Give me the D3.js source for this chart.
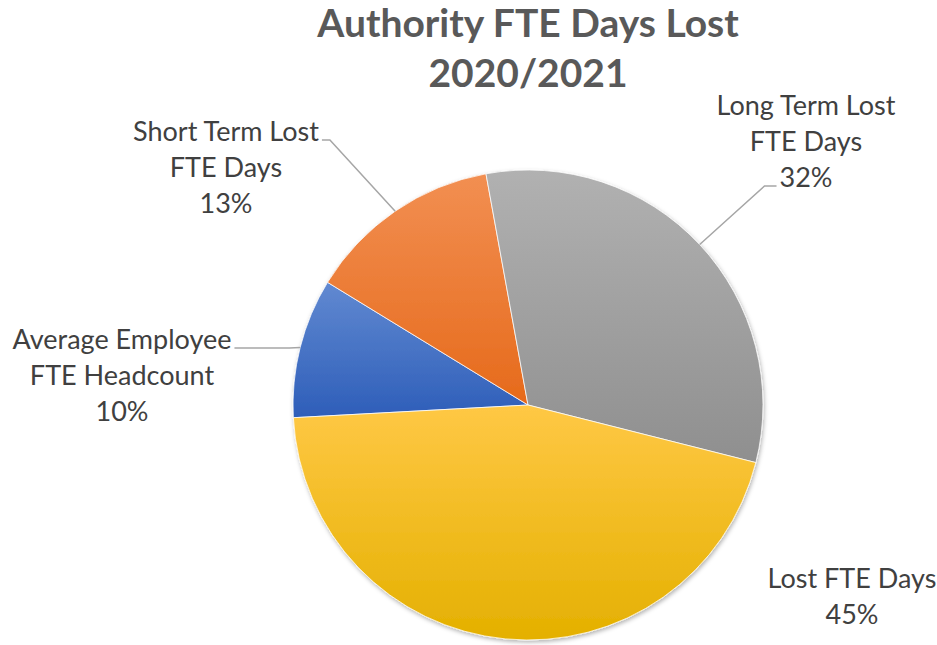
<!DOCTYPE html>
<html>
<head>
<meta charset="utf-8">
<script src="https://cdn.jsdelivr.net/npm/d3@7"></script>
<style>
  body { margin: 0; background: #fff; }
  svg { display: block; }
</style>
</head>
<body>
<svg id="chart" width="937" height="645"></svg>
<script>
// data
var categories = ['Average Employee FTE Headcount', 'Short Term Lost FTE Days', 'Long Term Lost FTE Days', 'Lost FTE Days'];
var values = [9.6, 13.4, 31.8, 45.2];
var colorsTop = ['#6189d1', '#f28f52', '#b1b1b1', '#ffc845'];
var colorsBottom = ['#2e5eb9', '#e66a1b', '#8f8f8f', '#e4b000'];
var titleLines = ['Authority FTE Days Lost', '2020/2021'];

// label placement (Excel moved these by hand)
var labelLayout = [
  { cx: 122, y: 349, wrap: 235, leader: 'right', line: 0, elbow: 55 },
  { cx: 226, y: 141, wrap: 210, leader: 'right', line: 0, elbow: 8 },
  { cx: 806, y: 115, wrap: 210, leader: 'left', line: 2, elbow: 12 },
  { cx: 852, y: 588, wrap: 210, leader: null }
];

var W = 937, H = 645;
var cx = 528, cy = 405, R = 235;
var labelFont = 'Lato, "Open Sans", sans-serif';

var svg = d3.select('#chart');
var defs = svg.append('defs');

var shadow = defs.append('filter').attr('id', 'shadow')
    .attr('x', '-10%').attr('y', '-10%').attr('width', '120%').attr('height', '120%');
shadow.append('feDropShadow')
    .attr('dx', 1).attr('dy', 2).attr('stdDeviation', 2)
    .attr('flood-color', '#000').attr('flood-opacity', 0.3);

categories.forEach(function(c, i){
  var g = defs.append('linearGradient').attr('id', 'grad' + i)
      .attr('x1', 0).attr('y1', 0).attr('x2', 0).attr('y2', 1);
  g.append('stop').attr('offset', '0%').attr('stop-color', colorsTop[i]);
  g.append('stop').attr('offset', '100%').attr('stop-color', colorsBottom[i]);
});

// title
svg.append('g').selectAll('text')
    .data(titleLines).enter().append('text')
    .attr('x', cx)
    .attr('y', function(d, i){ return 37 + i * 50; })
    .attr('text-anchor', 'middle')
    .style('font-family', labelFont)
    .style('font-weight', 'bold')
    .style('font-size', '39px')
    .style('fill', '#595959')
    .text(function(d){ return d; });

// pie
var total = d3.sum(values);
var start = -(10.3 + (values[0] + values[1]) / total * 360) * Math.PI / 180;
var pie = d3.pie().sort(null).startAngle(start).endAngle(start + 2 * Math.PI);
var arcs = pie(values);
var arc = d3.arc().innerRadius(0).outerRadius(R);
var edge = d3.arc().innerRadius(R).outerRadius(R);

var pieG = svg.append('g').attr('transform', 'translate(' + cx + ',' + cy + ')');
pieG.append('g').attr('filter', 'url(#shadow)')
  .selectAll('path')
    .data(arcs).enter().append('path')
    .attr('d', arc)
    .attr('fill', function(d, i){ return 'url(#grad' + i + ')'; })
    .attr('stroke', '#fff')
    .attr('stroke-width', 0.75);

// labels
var fmt = d3.format('.0%');
var labelsG = svg.append('g');

function wrap(text, maxWidth){
  var tmp = labelsG.append('text').style('font-family', labelFont).style('font-size', '27px');
  var words = text.split(' '), lines = [], cur = '';
  words.forEach(function(w){
    var t = cur ? cur + ' ' + w : w;
    tmp.text(t);
    if (tmp.node().getComputedTextLength() > maxWidth && cur){ lines.push(cur); cur = w; }
    else cur = t;
  });
  lines.push(cur);
  tmp.remove();
  return lines;
}

arcs.forEach(function(a, i){
  var lay = labelLayout[i];
  var lines = wrap(categories[i], lay.wrap).concat([fmt(values[i] / total)]);
  var t = labelsG.append('text')
      .attr('text-anchor', 'middle')
      .style('font-family', labelFont)
      .style('font-size', '27px')
      .style('fill', '#404040');
  var spans = t.selectAll('tspan').data(lines).enter().append('tspan')
      .attr('x', lay.cx)
      .attr('y', function(d, j){ return lay.y + j * 36; })
      .text(function(d){ return d; });

  if (lay.leader){
    var node = spans.nodes()[lay.line];
    var w = node.getComputedTextLength();
    var ly = lay.y + lay.line * 36 - 1;
    var p = edge.centroid(a);
    var sx = lay.leader === 'right' ? lay.cx + w / 2 + 3 : lay.cx - w / 2 - 3;
    var ex = lay.leader === 'right' ? Math.min(sx + lay.elbow, cx + p[0]) : sx - lay.elbow;
    var pts = [[sx, ly], [ex, ly], [cx + p[0], cy + p[1]]];
    labelsG.append('path')
        .attr('d', d3.line()(pts))
        .attr('fill', 'none')
        .attr('stroke', '#a6a6a6')
        .attr('stroke-width', 1.5);
  }
});
</script>
</body>
</html>
